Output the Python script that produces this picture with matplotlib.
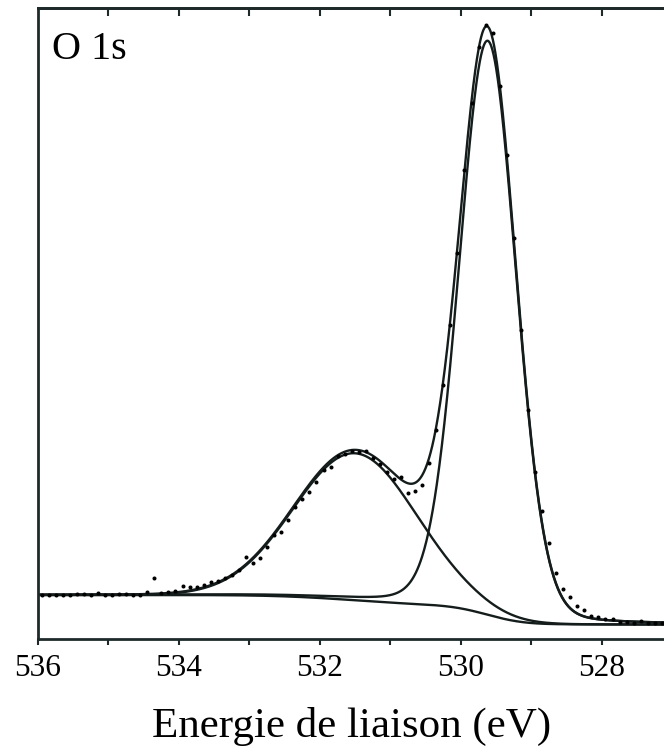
import numpy as np
import matplotlib
matplotlib.use("Agg")
import matplotlib.pyplot as plt

# ---------------- data ----------------
# O 1s XPS spectrum: measured points, 0.1 eV step starting at 535.95 eV
E_START = 535.95
E_STEP = 0.1
intensity = [
    44.0, 44.0, 44.5, 44.0, 44.3, 44.7, 44.7, 44.0, 45.7, 44.2,
    44.0, 44.7, 44.7, 44.3, 44.5, 46.7, 60.7, 46.5, 46.7, 48.0,
    53.5, 52.3, 52.5, 54.5, 57.0, 58.2, 61.0, 64.0, 69.0, 82.0,
    76.0, 81.0, 92.0, 104.0, 107.5, 119.0, 132.0, 140.0, 147.0, 157.0,
    169.5, 172.5, 183.0, 185.5, 188.5, 187.5, 188.0, 181.5, 175.0, 167.0,
    160.0, 162.0, 146.0, 148.0, 154.0, 176.0, 209.0, 254.0, 314.0, 386.0,
    469.0, 536.0, 592.0, 614.0, 606.0, 553.0, 484.0, 401.0, 309.0, 229.0,
    167.0, 128.0, 96.0, 66.0, 50.0, 42.0, 33.0, 29.0, 23.0, 21.7,
    19.7, 19.7, 17.3, 17.3, 15.7, 18.0, 15.7, 15.7, 15.7,
]
energy = E_START - E_STEP * np.arange(len(intensity))

# Fitted components
peak_centers = [529.62, 531.50]     # eV
peak_heights = [574.0, 147.0]       # arb. units above background
peak_fwhm = [0.95, 2.05]            # eV
peak_lorentz = [0.10, 0.00]         # Lorentzian fraction of the GL shape
bg_high_be = 44.0                   # background level on the high-BE side
bg_low_be = 14.5                    # background level on the low-BE side

x_ticks = [536, 534, 532, 530, 528]
x_limits = (536.0, 527.12)

# ---------------- model curves ----------------
Eg = np.linspace(x_limits[0], x_limits[1], 1500)


def gl(e, c, h, w, m):
    u = (e - c) / w
    g = np.exp(-4 * np.log(2) * u ** 2)
    lo = 1.0 / (1.0 + 4 * u ** 2)
    return h * ((1 - m) * g + m * lo)


comps = [gl(Eg, c, h, w, m) for c, h, w, m in
         zip(peak_centers, peak_heights, peak_fwhm, peak_lorentz)]
psum = np.sum(comps, axis=0)

# Shirley-type background from cumulative peak area (from low BE side)
asc = psum[::-1]
ea = Eg[::-1]
cum = np.concatenate([[0], np.cumsum(0.5 * (asc[1:] + asc[:-1]) * np.diff(ea))])
frac = cum / cum[-1]
bg = (bg_low_be + (bg_high_be - bg_low_be) * frac)[::-1]

# ---------------- figure ----------------
W, H = 664, 749
fig = plt.figure(figsize=(W / 100, H / 100), dpi=100)
ax = fig.add_axes([38 / W, 110 / H, 1 - 38 / W, 631 / H])

lc = "#141c1c"
lw = 1.7
ax.plot(Eg, bg, color=lc, lw=lw)
for comp in comps:
    ax.plot(Eg, bg + comp, color=lc, lw=lw)
ax.plot(Eg, bg + psum, color=lc, lw=lw)
ax.plot(energy, intensity, linestyle="none", marker="o", ms=2.9,
        color="#000000", mew=0)

ax.set_xlim(*x_limits)
ax.set_ylim(0, 631)
ax.set_yticks([])

spine_c = "#1e2a2a"
for s in ["left", "bottom", "top"]:
    ax.spines[s].set_linewidth(2.0)
    ax.spines[s].set_color(spine_c)
ax.spines["right"].set_visible(False)

ax.set_xticks(x_ticks)
ax.set_xticks([535, 533, 531, 529], minor=True)
ax.tick_params(axis="x", which="both", direction="out", length=4.5,
               width=1.5, color=spine_c, pad=6)
ax.set_xticklabels([str(t) for t in x_ticks], fontsize=22.5,
                   family="Liberation Serif")

sec = ax.secondary_xaxis("top")
sec.set_xticks([535, 534, 533, 532, 531, 530, 529, 528])
sec.tick_params(direction="in", length=5.5, width=1.5, color=spine_c,
                labeltop=False)
sec.spines["top"].set_linewidth(2.0)
sec.spines["top"].set_color(spine_c)

fig.text(352 / W, 1 - 737 / H, "Energie de liaison (eV)", ha="center",
         va="baseline", fontsize=31, family="Liberation Serif")
fig.text(52 / W, 1 - 59 / H, "O 1s", ha="left", va="baseline",
         fontsize=29, family="Liberation Serif")

fig.savefig("out.png", dpi=100)
